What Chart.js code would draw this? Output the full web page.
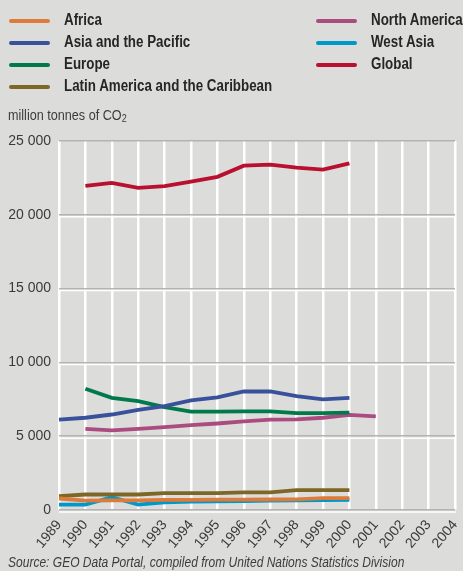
<!DOCTYPE html>
<html>
<head>
<meta charset="utf-8">
<script src="https://cdn.jsdelivr.net/npm/chart.js@4/dist/chart.umd.min.js"></script>
<style>
  body { margin: 0; background: #dcdddb; }
  #wrap { position: relative; width: 463px; height: 571px; background: #dcdddb; overflow: hidden; }
  #chart { position: absolute; left: 0; top: 0; }
  .leg { position: absolute; font-family: "Liberation Sans", Arial, sans-serif; font-weight: bold; font-size: 16px; color: #262626; line-height: 18px; white-space: nowrap; transform-origin: 0 50%; }
  .sw { position: absolute; height: 4px; width: 41px; border-radius: 2px; }
  #unit { position: absolute; left: 8px; top: 107px; font-family: "Liberation Sans", Arial, sans-serif; font-size: 14px; color: #3c3c3c; white-space: nowrap; transform-origin: 0 50%; }
  #unit sub { font-size: 10px; vertical-align: -2px; }
  #source { position: absolute; left: 8px; top: 554px; font-family: "Liberation Sans", Arial, sans-serif; font-style: italic; font-size: 14px; color: #3c3c3c; white-space: nowrap; transform-origin: 0 50%; }
</style>
</head>
<body>
<div id="wrap">
  <canvas id="chart" width="463" height="571"></canvas>
  <div id="legend"></div>
  <div id="unit">million tonnes of CO<sub>2</sub></div>
  <div id="source">Source: GEO Data Portal, compiled from United Nations Statistics Division</div>
</div>
<script>
// années
const years = ['1989','1990','1991','1992','1993','1994','1995','1996','1997','1998','1999','2000','2001','2002','2003','2004'];
const yTicks = [0, 5000, 10000, 15000, 20000, 25000];

// émissions, millions de tonnes de CO2
const africa = [780, 640, 650, 650, 680, 690, 700, 700, 710, 720, 800, 810, null, null, null, null];
const asiaPacific = [6130, 6250, 6470, 6790, 7040, 7420, 7630, 8030, 8030, 7710, 7490, 7600, null, null, null, null];
const europe = [null, 8220, 7600, 7380, 6970, 6660, 6660, 6680, 6680, 6560, 6560, 6600, null, null, null, null];
const latinAmerica = [940, 1050, 1050, 1050, 1140, 1140, 1140, 1200, 1200, 1340, 1340, 1340, null, null, null, null];
const northAmerica = [null, 5500, 5390, 5500, 5610, 5750, 5860, 6000, 6120, 6140, 6250, 6450, 6340, null, null, null];
const westAsia = [370, 370, 870, 370, 510, 570, 590, 610, 630, 650, 670, 690, null, null, null, null];
const globalTotal = [null, 21960, 22160, 21830, 21940, 22250, 22570, 23330, 23400, 23200, 23060, 23490, null, null, null, null];

const series = [
    { name: 'Africa', data: africa, color: '#dd7b3b', col: 0, row: 0 },
    { name: 'Asia and the Pacific', data: asiaPacific, color: '#39519a', col: 0, row: 1 },
    { name: 'Europe', data: europe, color: '#00794b', col: 0, row: 2 },
    { name: 'Latin America and the Caribbean', data: latinAmerica, color: '#7e6626', col: 0, row: 3 },
    { name: 'North America', data: northAmerica, color: '#ab4c80', col: 1, row: 0 },
    { name: 'West Asia', data: westAsia, color: '#0098c9', col: 1, row: 1 },
    { name: 'Global', data: globalTotal, color: '#b8102e', col: 1, row: 2 }
];

// texte resserré (police condensée absente)
function squeeze(el, targetWidth) {
    const w = el.offsetWidth;
    const k = targetWidth / w;
    el.style.transform = 'scaleX(' + k + ')';
    return k;
}

// légende en HTML, deux colonnes
const legend = document.getElementById('legend');
const legendTexts = [];
series.forEach(function(s) {
    const y = 21 + s.row * 22;
    const sw = document.createElement('div');
    sw.className = 'sw';
    sw.style.background = s.color;
    sw.style.left = (s.col ? 316 : 9) + 'px';
    sw.style.top = (y - 2) + 'px';
    legend.appendChild(sw);
    const t = document.createElement('div');
    t.className = 'leg';
    t.textContent = s.name;
    t.style.left = (s.col ? 371 : 64) + 'px';
    t.style.top = (y - 10) + 'px';
    legend.appendChild(t);
    legendTexts.push(t);
});
const kLeg = squeeze(legendTexts[3], 208);
legendTexts.forEach(function(t) { t.style.transform = 'scaleX(' + kLeg + ')'; });
squeeze(document.getElementById('unit'), 119);
squeeze(document.getElementById('source'), 396);

// ligne blanche sous chaque ligne grise horizontale
const whiteUnderline = {
    id: 'whiteUnderline',
    beforeDatasetsDraw: function(chart) {
        const ctx = chart.ctx;
        const y = chart.scales.y;
        const area = chart.chartArea;
        ctx.save();
        ctx.strokeStyle = '#ffffff';
        ctx.lineWidth = 1.5;
        y.ticks.forEach(function(t) {
            if (t.value === 25000) return;
            const py = y.getPixelForValue(t.value) + 2;
            ctx.beginPath();
            ctx.moveTo(area.left, py);
            ctx.lineTo(area.right + 1, py);
            ctx.stroke();
        });
        ctx.restore();
    }
};

const tickFont = { family: '"Liberation Sans", Arial, sans-serif', size: 14 };

new Chart(document.getElementById('chart'), {
    type: 'line',
    data: {
        labels: years,
        datasets: series.map(function(s) {
            return {
                label: s.name,
                data: s.data,
                borderColor: s.color,
                backgroundColor: s.color,
                borderWidth: 3.8,
                pointRadius: 0,
                tension: 0,
                spanGaps: false
            };
        })
    },
    options: {
        responsive: false,
        animation: false,
        layout: { padding: { left: 0, top: 141, right: 8, bottom: 0 } },
        plugins: { legend: { display: false }, tooltip: { enabled: false } },
        scales: {
            x: {
                offset: false,
                grid: { color: '#ffffff', lineWidth: 2.5, drawTicks: false },
                border: { display: false },
                ticks: {
                    color: '#3a3a3a',
                    font: tickFont,
                    maxRotation: 50,
                    minRotation: 50,
                    autoSkip: false,
                    padding: 7
                },
                afterFit: function(scale) {
                    scale.height = 61;
                    scale.paddingLeft = 0;
                    scale.paddingRight = 0;
                }
            },
            y: {
                min: 0,
                max: 25000,
                afterBuildTicks: function(scale) {
                    scale.ticks = yTicks.map(function(v) { return { value: v }; });
                },
                grid: { color: '#b3b3b3', lineWidth: 1.5, drawTicks: false },
                border: { display: false },
                ticks: {
                    color: '#3a3a3a',
                    font: tickFont,
                    padding: 8,
                    callback: function(value) {
                        return String(value).replace(/\B(?=(\d{3})+(?!\d))/g, ' ');
                    }
                },
                afterFit: function(scale) {
                    scale.width = 59;
                    scale.paddingTop = 0;
                    scale.paddingBottom = 0;
                }
            }
        }
    },
    plugins: [whiteUnderline]
});
</script>
</body>
</html>
